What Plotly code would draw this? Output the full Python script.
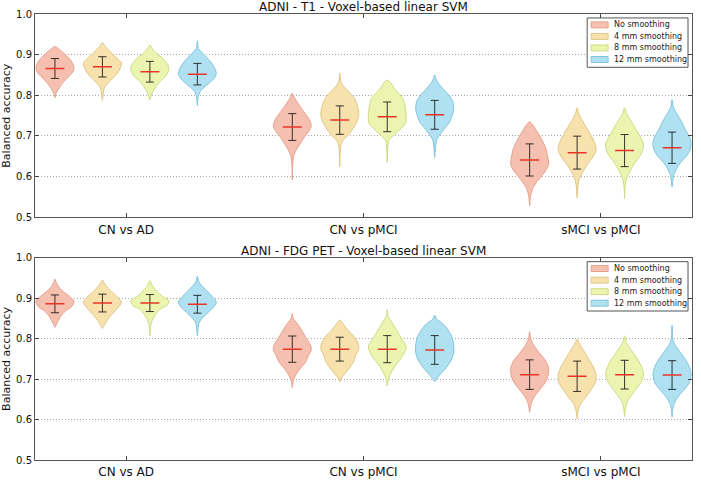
import plotly.graph_objects as go

# ---------------- data ----------------
CATEGORIES = ["CN vs AD", "CN vs pMCI", "sMCI vs pMCI"]
SMOOTHING = ["No smoothing", "4 mm smoothing", "8 mm smoothing", "12 mm smoothing"]
PANEL_TITLES = ["ADNI - T1 - Voxel-based linear SVM", "ADNI - FDG PET - Voxel-based linear SVM"]
Y_TICKS = [0.5, 0.6, 0.7, 0.8, 0.9, 1.0]

# mean balanced accuracy [category][smoothing]
T1_MEANS = [[0.866, 0.870, 0.858, 0.852],
            [0.722, 0.739, 0.747, 0.752],
            [0.641, 0.659, 0.664, 0.671]]
T1_STDS = [[0.0245, 0.025, 0.0255, 0.0265],
           [0.033, 0.035, 0.0365, 0.0355],
           [0.0395, 0.0405, 0.0395, 0.0385]]
PET_MEANS = [[0.886, 0.888, 0.888, 0.885],
             [0.774, 0.774, 0.774, 0.772],
             [0.711, 0.707, 0.711, 0.710]]
PET_STDS = [[0.022, 0.022, 0.021, 0.022],
            [0.0325, 0.0295, 0.0335, 0.0355],
            [0.0365, 0.0375, 0.0355, 0.0355]]

# violin outlines: [value, relative half-width] from top to bottom
T1_PROFILES = [
    [
        [[0.920, 0], [0.912, 0.25], [0.900, 0.55], [0.885, 0.85], [0.870, 1.0], [0.858, 0.95], [0.845, 0.7], [0.830, 0.4], [0.815, 0.18], [0.805, 0.06], [0.794, 0]],
        [[0.930, 0], [0.920, 0.15], [0.905, 0.45], [0.890, 0.8], [0.880, 1.0], [0.868, 0.95], [0.855, 0.8], [0.842, 0.55], [0.830, 0.3], [0.818, 0.1], [0.800, 0.04], [0.787, 0]],
        [[0.924, 0], [0.915, 0.12], [0.903, 0.35], [0.890, 0.7], [0.875, 0.95], [0.862, 1.0], [0.848, 0.85], [0.835, 0.55], [0.820, 0.3], [0.805, 0.12], [0.789, 0]],
        [[0.934, 0], [0.915, 0.06], [0.900, 0.35], [0.885, 0.65], [0.868, 0.9], [0.853, 1.0], [0.840, 0.85], [0.825, 0.5], [0.812, 0.2], [0.800, 0.06], [0.774, 0]],
    ],
    [
        [[0.805, 0], [0.795, 0.1], [0.780, 0.3], [0.760, 0.6], [0.740, 0.9], [0.725, 1.0], [0.710, 0.85], [0.695, 0.6], [0.680, 0.4], [0.665, 0.2], [0.650, 0.07], [0.630, 0.02], [0.592, 0]],
        [[0.855, 0], [0.835, 0.05], [0.822, 0.2], [0.805, 0.55], [0.790, 0.8], [0.770, 0.95], [0.752, 1.0], [0.735, 0.9], [0.715, 0.65], [0.700, 0.4], [0.688, 0.15], [0.675, 0.05], [0.625, 0]],
        [[0.837, 0], [0.830, 0.2], [0.818, 0.35], [0.805, 0.6], [0.790, 0.85], [0.770, 0.95], [0.750, 1.0], [0.730, 0.95], [0.715, 0.65], [0.700, 0.3], [0.688, 0.08], [0.635, 0]],
        [[0.850, 0], [0.835, 0.12], [0.818, 0.4], [0.800, 0.75], [0.785, 0.95], [0.765, 1.0], [0.748, 0.9], [0.735, 0.8], [0.720, 0.55], [0.705, 0.3], [0.690, 0.1], [0.647, 0]],
    ],
    [
        [[0.735, 0], [0.725, 0.2], [0.710, 0.4], [0.690, 0.65], [0.670, 0.85], [0.650, 0.95], [0.630, 1.0], [0.615, 0.85], [0.600, 0.6], [0.585, 0.35], [0.570, 0.15], [0.550, 0.04], [0.528, 0]],
        [[0.769, 0], [0.755, 0.08], [0.740, 0.25], [0.720, 0.5], [0.700, 0.75], [0.680, 0.95], [0.665, 1.0], [0.650, 0.85], [0.630, 0.55], [0.612, 0.3], [0.595, 0.12], [0.575, 0.04], [0.548, 0]],
        [[0.769, 0], [0.755, 0.1], [0.740, 0.3], [0.720, 0.55], [0.700, 0.8], [0.680, 1.0], [0.665, 0.95], [0.650, 0.8], [0.635, 0.55], [0.615, 0.3], [0.598, 0.12], [0.575, 0.03], [0.546, 0]],
        [[0.789, 0], [0.770, 0.08], [0.755, 0.25], [0.735, 0.5], [0.715, 0.7], [0.695, 0.95], [0.680, 1.0], [0.665, 0.95], [0.650, 0.75], [0.635, 0.45], [0.620, 0.25], [0.605, 0.1], [0.574, 0]],
    ],
]
PET_PROFILES = [
    [
        [[0.947, 0], [0.935, 0.1], [0.920, 0.35], [0.905, 0.75], [0.893, 1.0], [0.880, 0.9], [0.868, 0.55], [0.855, 0.3], [0.842, 0.15], [0.828, 0]],
        [[0.945, 0], [0.935, 0.12], [0.920, 0.4], [0.905, 0.75], [0.890, 1.0], [0.875, 0.8], [0.860, 0.5], [0.845, 0.25], [0.833, 0.1], [0.825, 0]],
        [[0.943, 0], [0.932, 0.12], [0.918, 0.35], [0.905, 0.65], [0.893, 1.0], [0.882, 0.9], [0.872, 0.5], [0.860, 0.3], [0.848, 0.15], [0.835, 0.05], [0.807, 0]],
        [[0.954, 0], [0.940, 0.08], [0.925, 0.35], [0.908, 0.7], [0.890, 1.0], [0.875, 0.8], [0.862, 0.5], [0.850, 0.25], [0.838, 0.08], [0.807, 0]],
    ],
    [
        [[0.862, 0], [0.850, 0.05], [0.838, 0.25], [0.820, 0.5], [0.800, 0.75], [0.785, 0.95], [0.772, 1.0], [0.758, 0.85], [0.742, 0.7], [0.728, 0.45], [0.715, 0.25], [0.700, 0.08], [0.679, 0]],
        [[0.846, 0], [0.835, 0.2], [0.820, 0.45], [0.805, 0.75], [0.790, 0.95], [0.775, 1.0], [0.760, 0.85], [0.745, 0.75], [0.730, 0.55], [0.715, 0.3], [0.703, 0.1], [0.693, 0]],
        [[0.872, 0], [0.855, 0.05], [0.840, 0.25], [0.820, 0.5], [0.800, 0.75], [0.780, 1.0], [0.765, 0.9], [0.750, 0.7], [0.735, 0.45], [0.720, 0.25], [0.705, 0.1], [0.683, 0]],
        [[0.858, 0], [0.848, 0.1], [0.840, 0.35], [0.825, 0.65], [0.805, 0.9], [0.785, 1.0], [0.765, 1.0], [0.745, 0.85], [0.728, 0.6], [0.712, 0.3], [0.700, 0.1], [0.693, 0]],
    ],
    [
        [[0.817, 0], [0.800, 0.05], [0.785, 0.2], [0.765, 0.5], [0.745, 0.85], [0.725, 1.0], [0.705, 0.95], [0.690, 0.8], [0.675, 0.55], [0.660, 0.3], [0.645, 0.12], [0.630, 0.04], [0.618, 0]],
        [[0.798, 0], [0.785, 0.15], [0.770, 0.35], [0.750, 0.6], [0.730, 0.85], [0.710, 1.0], [0.690, 0.95], [0.672, 0.7], [0.655, 0.45], [0.640, 0.2], [0.625, 0.07], [0.602, 0]],
        [[0.807, 0], [0.790, 0.1], [0.775, 0.3], [0.755, 0.6], [0.735, 0.85], [0.715, 1.0], [0.695, 0.9], [0.678, 0.65], [0.662, 0.4], [0.645, 0.15], [0.628, 0.05], [0.607, 0]],
        [[0.833, 0], [0.800, 0.04], [0.785, 0.15], [0.765, 0.45], [0.745, 0.75], [0.725, 0.95], [0.710, 1.0], [0.690, 0.9], [0.672, 0.6], [0.655, 0.3], [0.640, 0.12], [0.625, 0.04], [0.606, 0]],
    ],
]

# ---------------- styling ----------------
FILLS = ["rgb(246,192,176)", "rgb(247,226,174)", "rgb(236,245,176)", "rgb(176,225,243)"]
EDGES = ["rgb(230,160,140)", "rgb(224,198,134)", "rgb(206,218,132)", "rgb(128,196,220)"]
FONT = "DejaVu Sans"
HALF = 0.40      # max half-width of a violin (x units)
CAP = 0.085      # error-bar cap half-width
MEAN_HALF = 0.2  # mean line half-width

W, H = 701, 487
ML, MR, MT, MB = 35, 8, 13, 22
PW, PH = W - ML - MR, H - MT - MB


def px2paper(xp, yp):
    return (xp - ML) / PW, (H - MB - yp) / PH


fig = go.Figure()

panels = [
    (T1_PROFILES, T1_MEANS, T1_STDS, "x", "y"),
    (PET_PROFILES, PET_MEANS, PET_STDS, "x2", "y2"),
]

for profiles, means, stds, xa, ya in panels:
    for c in range(len(CATEGORIES)):
        for s in range(len(SMOOTHING)):
            pos = c * 5 + s + 1
            prof = profiles[c][s]
            ys = [p[0] for p in prof]
            ws = [p[1] * HALF for p in prof]
            px = [pos + w for w in ws] + [pos - w for w in ws[::-1]]
            py = ys + ys[::-1]
            fig.add_trace(go.Scatter(
                x=px, y=py, mode="lines", fill="toself",
                fillcolor=FILLS[s], line=dict(color=EDGES[s], width=1, shape="spline", smoothing=0.7),
                name=SMOOTHING[s], showlegend=False,
                xaxis=xa, yaxis=ya, hoverinfo="skip"))
    for c in range(len(CATEGORIES)):
        for s in range(len(SMOOTHING)):
            pos = c * 5 + s + 1
            m, sd = means[c][s], stds[c][s]
            lo, hi = m - sd, m + sd
            fig.add_trace(go.Scatter(
                x=[pos, pos, None, pos - CAP, pos + CAP, None, pos - CAP, pos + CAP],
                y=[lo, hi, None, hi, hi, None, lo, lo],
                mode="lines", line=dict(color="rgba(20,20,20,0.85)", width=1),
                showlegend=False, xaxis=xa, yaxis=ya, hoverinfo="skip"))
            fig.add_trace(go.Scatter(
                x=[pos - MEAN_HALF, pos + MEAN_HALF], y=[m, m],
                mode="lines", line=dict(color="rgb(232,52,40)", width=1.5),
                showlegend=False, xaxis=xa, yaxis=ya, hoverinfo="skip"))

TOP_DOM = [1 - 206 / PH, 1.0]
BOT_DOM = [0.0, 205 / PH]

xcommon = dict(range=[0.58, 14.42], tickvals=[2.5, 7.5, 12.5], ticktext=CATEGORIES,
               ticks="inside", ticklen=4, tickcolor="#444", showgrid=False, zeroline=False,
               showline=True, linecolor="#555", linewidth=1, mirror="ticks",
               tickfont=dict(family=FONT, size=12, color="#111"), ticklabelstandoff=1)
ycommon = dict(range=[0.5, 1.0], tickvals=Y_TICKS, ticktext=[f"{v:.1f}" for v in Y_TICKS],
               ticks="inside", ticklen=4, tickcolor="#444", showgrid=True,
               gridcolor="#a8a8a8", griddash="1px,2px", gridwidth=1, zeroline=False,
               showline=True, linecolor="#555", linewidth=1, mirror="ticks",
               tickfont=dict(family=FONT, size=10, color="#111"))

shapes = []
annotations = []

# custom legends (box, patches, labels) in each panel, top right
for box_top, first_center in [(17, 24), (264, 271)]:
    bx0, by0 = px2paper(588, box_top + 50)
    bx1, by1 = px2paper(689, box_top)
    shapes.append(dict(type="rect", xref="paper", yref="paper", x0=bx0, y0=by0, x1=bx1, y1=by1,
                       fillcolor="white", line=dict(color="#555", width=1), layer="above"))
    for s, label in enumerate(SMOOTHING):
        cy = first_center + s * 11.7
        x0, y0 = px2paper(592, cy + 3)
        x1, y1 = px2paper(609, cy - 3)
        shapes.append(dict(type="rect", xref="paper", yref="paper", x0=x0, y0=y0, x1=x1, y1=y1,
                           fillcolor=FILLS[s], line=dict(color=EDGES[s], width=1), layer="above"))
        tx, ty = px2paper(613, cy)
        annotations.append(dict(text=label, x=tx, y=ty, xref="paper", yref="paper",
                                xanchor="left", yanchor="middle", showarrow=False,
                                font=dict(family=FONT, size=8, color="#222")))

annotations += [
    dict(text=PANEL_TITLES[0], x=0.5, y=TOP_DOM[1], xref="paper", yref="paper",
         xanchor="center", yanchor="bottom", showarrow=False, yshift=-2,
         font=dict(family=FONT, size=12, color="#111")),
    dict(text=PANEL_TITLES[1], x=0.5, y=BOT_DOM[1], xref="paper", yref="paper",
         xanchor="center", yanchor="bottom", showarrow=False, yshift=-2,
         font=dict(family=FONT, size=12, color="#111")),
    dict(text="Balanced accuracy", x=-28 / PW, y=(TOP_DOM[0] + TOP_DOM[1]) / 2,
         xref="paper", yref="paper", textangle=-90, showarrow=False,
         xanchor="center", yanchor="middle", font=dict(family=FONT, size=11, color="#111")),
    dict(text="Balanced accuracy", x=-28 / PW, y=(BOT_DOM[0] + BOT_DOM[1]) / 2,
         xref="paper", yref="paper", textangle=-90, showarrow=False,
         xanchor="center", yanchor="middle", font=dict(family=FONT, size=11, color="#111")),
]

fig.update_layout(
    width=W, height=H, paper_bgcolor="white", plot_bgcolor="white",
    margin=dict(l=ML, r=MR, t=MT, b=MB), showlegend=False,
    xaxis=dict(domain=[0, 1], anchor="y", **xcommon),
    yaxis=dict(domain=TOP_DOM, anchor="x", **ycommon),
    xaxis2=dict(domain=[0, 1], anchor="y2", **xcommon),
    yaxis2=dict(domain=BOT_DOM, anchor="x2", **ycommon),
    shapes=shapes,
    annotations=annotations,
)

fig.write_html("out.html")
